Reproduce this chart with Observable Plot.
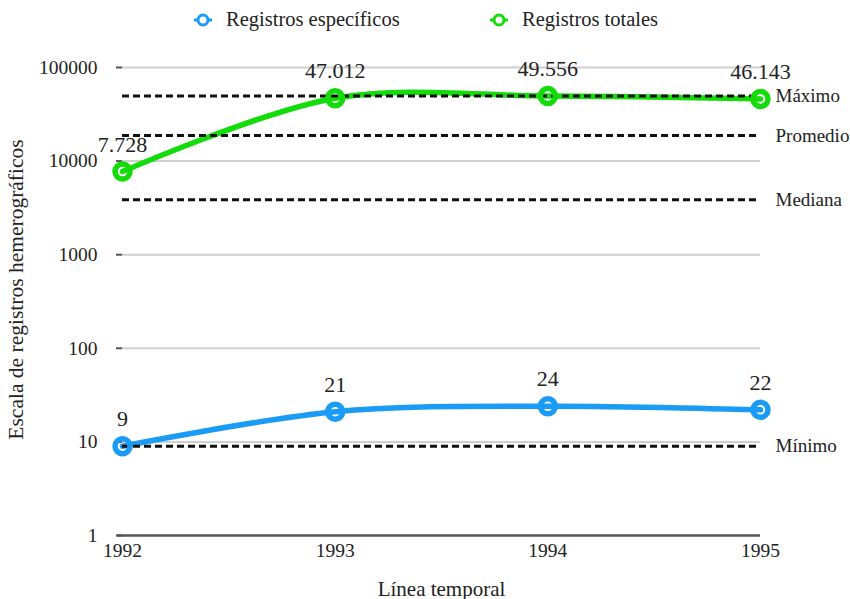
<!DOCTYPE html>
<html>
<head>
<meta charset="utf-8">
<script src="https://cdn.jsdelivr.net/npm/d3@7"></script>
<script src="https://cdn.jsdelivr.net/npm/@observablehq/plot@0.6"></script>
<style>
  html, body { margin: 0; padding: 0; background: #fff; }
  body { width: 850px; font-family: "Liberation Serif", "Times New Roman", serif; }
  #legend { position: relative; height: 42px; font-size: 20.5px; color: #222; }
  .item { position: absolute; top: 8px; display: flex; align-items: center; }
  .item svg { margin-right: 13px; }
</style>
</head>
<body>
<div id="legend"></div>
<div id="chart"></div>
<script>
const years = [1992, 1993, 1994, 1995];
const especificos = [9, 21, 24, 22];
const totales = [7728, 47012, 49556, 46143];
const seriesNames = ["Registros específicos", "Registros totales"];
const seriesColors = ["#1a9cf6", "#14dc0a"];
const yTicks = [1, 10, 100, 1000, 10000, 100000];
const refNames = ["Máximo", "Promedio", "Mediana", "Mínimo"];

const rows = [];
years.forEach((y, i) => {
  rows.push({year: y, value: especificos[i], serie: seriesNames[0]});
  rows.push({year: y, value: totales[i], serie: seriesNames[1]});
});
const all = rows.map(d => d.value);
const refs = [
  {name: refNames[0], value: d3.max(all)},
  {name: refNames[1], value: d3.mean(all)},
  {name: refNames[2], value: d3.median(all)},
  {name: refNames[3], value: d3.min(all)}
];

const loc = d3.formatLocale({decimal: ",", thousands: ".", grouping: [3], currency: ["", ""]});
const fmt = loc.format(",d");

// legend
const legend = document.getElementById("legend");
const legendX = [193, 489];
seriesNames.forEach((name, i) => {
  const div = document.createElement("div");
  div.className = "item";
  div.style.left = legendX[i] + "px";
  div.innerHTML = `<svg width="20" height="20"><line x1="1" x2="19" y1="10" y2="10" stroke="${seriesColors[i]}" stroke-width="3"/><circle cx="10" cy="10" r="5" fill="#fff" stroke="${seriesColors[i]}" stroke-width="3"/></svg><span>${name}</span>`;
  legend.appendChild(div);
});

const color = {domain: seriesNames, range: seriesColors};
const ff = "'Liberation Serif', 'Times New Roman', serif";

const chart = Plot.plot({
  width: 850,
  height: 557,
  marginTop: 25,
  marginBottom: 64,
  marginLeft: 122,
  marginRight: 90,
  style: {fontFamily: ff, fontSize: "19.5px", color: "#222", background: "#fff"},
  x: {domain: [1992, 1995], label: null},
  y: {type: "log", domain: [1, 100000], label: null},
  color,
  marks: [
    Plot.ruleY(yTicks.slice(1), {stroke: "#d0d0d0", strokeWidth: 2}),
    Plot.ruleY([1], {stroke: "#555", strokeWidth: 2.5, insetLeft: -5}),
    Plot.axisY({ticks: yTicks, tickFormat: d => String(d), tickSize: 6, tickPadding: 19, stroke: "#555", strokeWidth: 2, fontSize: 19.5}),
    Plot.axisX({ticks: years, tickFormat: d => String(d), tickSize: 0, tickPadding: 8, fontSize: 19.5}),
    Plot.text(["Línea temporal"], {frameAnchor: "bottom", dy: 60, fontSize: 21, fill: "#222", lineAnchor: "bottom"}),
    Plot.text(["Escala de registros hemerográficos"], {frameAnchor: "left", textAnchor: "middle", dx: -106, dy: -12, rotate: -90, fontSize: 21.5, fill: "#222"}),
    Plot.line(rows, {x: "year", y: "value", z: "serie", stroke: "serie", strokeWidth: 5.5, curve: "catmull-rom"}),
    Plot.ruleY(refs, {y: "value", stroke: "#111", strokeWidth: 3, strokeDasharray: "7,4"}),
    Plot.dot(rows, {x: "year", y: "value", stroke: "serie", fill: "#fff", fillOpacity: 0, r: 7.5, strokeWidth: 5.5}),
    Plot.text(rows, {x: "year", y: "value", text: d => fmt(d.value), dy: -27, fontSize: 22, fill: "#222"}),
    Plot.text(refs, {x: () => 1995, y: "value", text: "name", textAnchor: "start", dx: 15, fontSize: 19, fill: "#222"})
  ]
});
document.getElementById("chart").appendChild(chart);
</script>
</body>
</html>
